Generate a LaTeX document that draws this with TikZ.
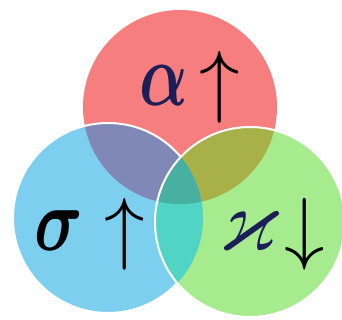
\documentclass[tikz,border=0pt]{standalone}
\usepackage{amsmath,amssymb}
\usepackage{tikz}

\definecolor{redc}{RGB}{246,126,126}
\definecolor{bluec}{RGB}{125,207,240}
\definecolor{greenc}{RGB}{166,236,142}
\definecolor{redblue}{RGB}{128,136,184}
\definecolor{redgreen}{RGB}{168,176,72}
\definecolor{bluegreen}{RGB}{80,212,196}
\definecolor{allthree}{RGB}{72,176,160}
\definecolor{ink}{RGB}{28,30,88}

\begin{document}
\begin{tikzpicture}[x=1pt, y=1pt,
    sym/.style={font=\Huge, inner sep=0pt, xscale=2.7, yscale=3.6},
    arr/.style={font=\Huge, inner sep=0pt, scale=3.25},
    rim/.style={draw=white, line width=2pt}
]
\useasboundingbox[fill=white] (0,0) rectangle (342,320);

% Circle centres
\coordinate (red) at (180,213);
\coordinate (blue) at (108,102);
\coordinate (green) at (250,98);

% Red circle
\fill[redc] (red) circle (97);

% Blue circle and its overlap with red
\fill[bluec] (blue) circle (95);
\begin{scope}
  \clip (blue) circle (95);
  \fill[redblue] (red) circle (97);
\end{scope}
\path[rim] (blue) circle (95);

% Green circle and its overlaps
\fill[greenc] (green) circle (95);
\begin{scope}
  \clip (green) circle (95);
  \fill[redgreen] (red) circle (97);
  \fill[bluegreen] (blue) circle (95);
  \clip (red) circle (97);
  \fill[allthree] (blue) circle (95);
\end{scope}
\path[rim] (green) circle (95);

% Labels
\node[sym, text=ink, xscale=0.95] (alpha) at (164,234) {$\boldsymbol{\alpha}$};
\node[arr] (alphaup) at (220,233) {$\uparrow$};
\node[sym, text=black] (sigma) at (59,89) {$\boldsymbol{\sigma}$};
\node[arr] (sigmaup) at (125,86) {$\uparrow$};
\node[sym, text=ink, xscale=1.25] (kappa) at (249,89) {$\varkappa$};
\node[arr] (kappadown) at (305,86) {$\downarrow$};

\end{tikzpicture}
\end{document}
